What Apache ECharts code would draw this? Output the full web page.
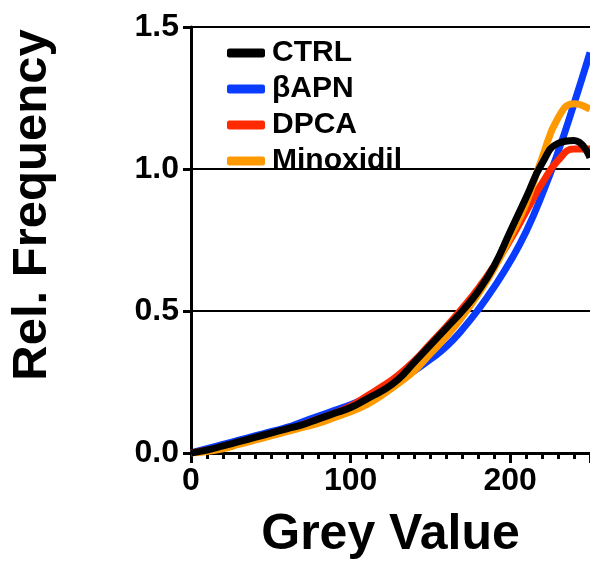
<!DOCTYPE html>
<html>
<head>
<meta charset="utf-8">
<script src="https://cdn.jsdelivr.net/npm/echarts@6/dist/echarts.min.js"></script>
<style>html,body{margin:0;padding:0;background:#fff;}#chart{width:590px;height:577px;}</style>
</head>
<body>
<div id="chart"></div>
<script>
const greyValues = [0,10,20,30,40,50,60,70,80,90,100,110,120,130,140,150,160,170,180,190,200,210,220,230,240,250];
const ctrl      = [0.00,0.010,0.025,0.040,0.055,0.070,0.085,0.100,0.120,0.140,0.160,0.190,0.220,0.260,0.320,0.380,0.440,0.500,0.570,0.660,0.780,0.900,1.020,1.090,1.100,1.040];
const bapn      = [0.00,0.015,0.030,0.045,0.060,0.075,0.090,0.110,0.130,0.150,0.170,0.195,0.220,0.250,0.290,0.330,0.375,0.435,0.505,0.585,0.675,0.780,0.910,1.060,1.230,1.410];
const dpca      = [0.00,0.010,0.020,0.035,0.050,0.065,0.080,0.100,0.120,0.140,0.165,0.200,0.235,0.275,0.325,0.385,0.445,0.510,0.580,0.660,0.750,0.850,0.950,1.030,1.070,1.070];
const minoxidil = [0.00,0.005,0.015,0.030,0.045,0.060,0.075,0.090,0.105,0.125,0.145,0.170,0.205,0.245,0.290,0.350,0.410,0.480,0.560,0.650,0.760,0.880,1.040,1.180,1.230,1.210];
const seriesNames = ['CTRL','\u03b2APN','DPCA','Minoxidil'];
const seriesColors = ['#000000','#0a3cff','#ff2a00','#ff9900'];
const yTicks = [0, 0.5, 1.0, 1.5];
const xTicks = [0, 100, 200];

const font = 'Liberation Sans, Arial, Helvetica, sans-serif';
const chart = echarts.init(document.getElementById('chart'));
const allData = [ctrl, bapn, dpca, minoxidil];
const zs = [5, 2, 3, 4];
chart.setOption({
  animation: false,
  backgroundColor: '#fff',
  grid: {left: 190, right: 0, top: 27, bottom: 124, containLabel: false},
  legend: {
    orient: 'vertical', left: 222, top: 33,
    itemWidth: 38, itemHeight: 9, itemGap: 6,
    icon: 'roundRect',
    data: seriesNames.map((n, i) => ({name: n, itemStyle: {color: seriesColors[i]}})),
    textStyle: {fontFamily: font, fontWeight: 'bold', fontSize: 30, color: '#000', lineHeight: 29, padding: [0,0,0,2]}
  },
  xAxis: [{
    type: 'value', min: 0, max: 250, interval: 10,
    name: 'Grey Value', nameLocation: 'middle', nameGap: 57,
    nameTextStyle: {fontFamily: font, fontWeight: 'bold', fontSize: 50, color: '#000'},
    axisLine: {show: true, lineStyle: {color: '#000', width: 3}},
    axisTick: {show: true, length: 6, lineStyle: {color: '#000', width: 3}},
    axisLabel: {fontFamily: font, fontWeight: 'bold', fontSize: 32, color: '#000', margin: 12,
      showMaxLabel: false,
      formatter: v => xTicks.indexOf(v) >= 0 ? String(v) : ''},
    splitLine: {show: false}
  }, {
    type: 'value', min: 0, max: 250, interval: 100, position: 'bottom',
    axisLine: {show: false},
    axisTick: {show: true, length: 10, lineStyle: {color: '#000', width: 3}},
    axisLabel: {show: false},
    splitLine: {show: false},
    gridIndex: 0
  }],
  yAxis: {
    type: 'value', min: 0, max: 1.5, interval: 0.5,
    name: 'Rel. Frequency', nameLocation: 'middle', nameGap: 134,
    nameTextStyle: {fontFamily: font, fontWeight: 'bold', fontSize: 49, color: '#000', padding: [0,0,0,70]},
    axisLine: {show: true, lineStyle: {color: '#000', width: 3}},
    axisTick: {show: true, length: 8, lineStyle: {color: '#000', width: 3}},
    axisLabel: {fontFamily: font, fontWeight: 'bold', fontSize: 32, color: '#000', margin: 12,
      formatter: v => yTicks.indexOf(v) >= 0 ? v.toFixed(1) : ''},
    splitLine: {show: true, lineStyle: {color: '#000', width: 2}}
  },
  series: seriesNames.map((n, i) => ({
    name: n, type: 'line', smooth: true, showSymbol: false, z: zs[i],
    xAxisIndex: 0,
    color: seriesColors[i],
    lineStyle: {color: seriesColors[i], width: 7},
    data: greyValues.map((x, j) => [x, allData[i][j]])
  }))
});
</script>
</body>
</html>
